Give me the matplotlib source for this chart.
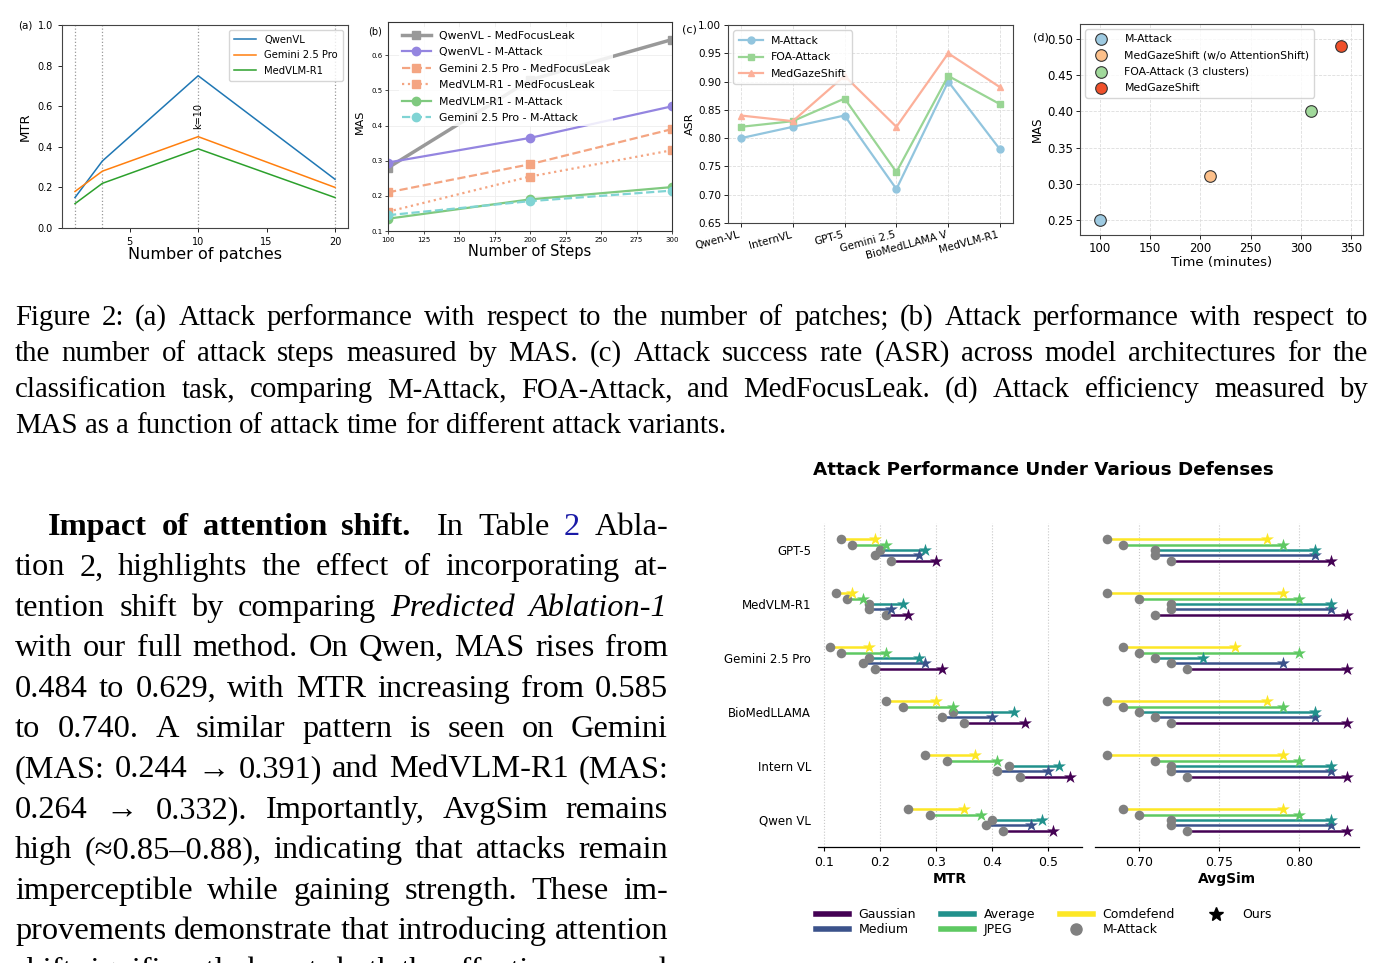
import matplotlib
matplotlib.use("Agg")
import matplotlib.pyplot as plt
from matplotlib.lines import Line2D

W, H = 1387, 963

# (a) number of patches
patches = [1, 3, 10, 20]
mtr_qwen = [0.15, 0.33, 0.75, 0.24]
mtr_gemini = [0.18, 0.28, 0.45, 0.20]
mtr_medvlm = [0.12, 0.22, 0.39, 0.15]

# (b) number of steps
steps = [100, 200, 300]
mas_qwen_mfl = [0.28, 0.53, 0.645]
mas_qwen_matk = [0.295, 0.365, 0.455]
mas_gemini_mfl = [0.21, 0.29, 0.39]
mas_medvlm_mfl = [0.155, 0.255, 0.33]
mas_medvlm_matk = [0.135, 0.19, 0.225]
mas_gemini_matk = [0.145, 0.185, 0.215]

# (c) ASR per architecture
archs = ["Qwen-VL", "InternVL", "GPT-5", "Gemini 2.5", "BioMedLLAMA V", "MedVLM-R1"]
asr_matk = [0.80, 0.82, 0.84, 0.71, 0.90, 0.78]
asr_foa = [0.82, 0.83, 0.87, 0.74, 0.91, 0.86]
asr_mgs = [0.84, 0.83, 0.91, 0.82, 0.95, 0.89]

# (d) efficiency
variants = ["M-Attack", "MedGazeShift (w/o AttentionShift)", "FOA-Attack (3 clusters)", "MedGazeShift"]
times = [100, 210, 310, 340]
mas_eff = [0.25, 0.31, 0.40, 0.49]

# defenses chart (rows = defenses, cols = models)
models = ["GPT-5", "MedVLM-R1", "Gemini 2.5 Pro", "BioMedLLAMA", "Intern VL", "Qwen VL"]
defenses = ["Gaussian", "Medium", "Average", "JPEG", "Comdefend"]
mtr_mattack = [
    [0.22, 0.21, 0.19, 0.35, 0.45, 0.42],
    [0.19, 0.18, 0.17, 0.31, 0.41, 0.39],
    [0.20, 0.18, 0.18, 0.33, 0.43, 0.40],
    [0.15, 0.14, 0.13, 0.24, 0.32, 0.29],
    [0.13, 0.12, 0.11, 0.21, 0.28, 0.25],
]
mtr_ours = [
    [0.30, 0.25, 0.31, 0.46, 0.54, 0.51],
    [0.27, 0.22, 0.28, 0.40, 0.50, 0.47],
    [0.28, 0.24, 0.27, 0.44, 0.52, 0.49],
    [0.21, 0.17, 0.21, 0.33, 0.41, 0.38],
    [0.19, 0.15, 0.18, 0.30, 0.37, 0.35],
]
sim_mattack = [
    [0.72, 0.71, 0.73, 0.72, 0.73, 0.73],
    [0.71, 0.72, 0.72, 0.71, 0.72, 0.72],
    [0.71, 0.72, 0.71, 0.70, 0.72, 0.72],
    [0.69, 0.70, 0.70, 0.69, 0.71, 0.70],
    [0.68, 0.68, 0.69, 0.68, 0.68, 0.69],
]
sim_ours = [
    [0.82, 0.83, 0.83, 0.83, 0.83, 0.83],
    [0.81, 0.82, 0.79, 0.81, 0.82, 0.82],
    [0.81, 0.82, 0.74, 0.81, 0.82, 0.82],
    [0.79, 0.80, 0.80, 0.79, 0.80, 0.80],
    [0.78, 0.79, 0.76, 0.78, 0.79, 0.79],
]
def_colors = ["#440154", "#3b528b", "#21918c", "#5ec962", "#fde725"]
def_offsets = [0.2, 0.1, 0.0, -0.1, -0.2]

caption = [
    "Figure 2: (a) Attack performance with respect to the number of patches; (b) Attack performance with respect to",
    "the number of attack steps measured by MAS. (c) Attack success rate (ASR) across model architectures for the",
    "classification task, comparing M-Attack, FOA-Attack, and MedFocusLeak.  (d) Attack efficiency measured by",
    "MAS as a function of attack time for different attack variants.",
]

fig = plt.figure(figsize=(W / 100, H / 100), dpi=100)
SERIF = ["Liberation Serif", "DejaVu Serif"]


def add_ax(l, t, r, b):
    return fig.add_axes([l / W, 1 - b / H, (r - l) / W, (b - t) / H])


def style_spines(ax, c="#444444"):
    for s in ax.spines.values():
        s.set_color(c)
        s.set_linewidth(0.8)


# ---------- (a)
ax = add_ax(62, 25, 348, 228)
for x in patches:
    ax.axvline(x, color="#999999", ls=":", lw=0.9, zorder=0)
ax.plot(patches, mtr_qwen, color="#1f77b4", lw=1.1, label="QwenVL")
ax.plot(patches, mtr_gemini, color="#ff7f0e", lw=1.1, label="Gemini 2.5 Pro")
ax.plot(patches, mtr_medvlm, color="#2ca02c", lw=1.1, label="MedVLM-R1")
ax.text(10, 0.55, "k=10", rotation=90, ha="center", va="center", fontsize=7)
ax.set_ylim(0, 1)
ax.set_yticks([0, 0.2, 0.4, 0.6, 0.8, 1.0])
ax.set_xticks([5, 10, 15, 20])
ax.tick_params(labelsize=7, length=3, width=0.6)
ax.set_xlabel("Number of patches", fontsize=11.5, labelpad=0)
ax.set_ylabel("MTR", fontsize=9.5, labelpad=4)
ax.legend(loc="upper right", fontsize=7.2, handlelength=2.2, borderpad=0.5, labelspacing=0.55)
style_spines(ax)
fig.text(18 / W, 1 - 25 / H, "(a)", fontsize=7.5, va="center")

# ---------- (b)
ax = add_ax(388, 22, 672, 231)
ax.grid(True, color="#eeeeee", lw=0.6)
ax.plot(steps, mas_qwen_mfl, color="#999999", marker="s", lw=2.5, ms=6, label="QwenVL - MedFocusLeak")
ax.plot(steps, mas_qwen_matk, color="#9485e0", marker="o", lw=1.6, ms=6, label="QwenVL - M-Attack")
ax.plot(steps, mas_gemini_mfl, color="#f4a582", marker="s", lw=1.6, ms=6, ls="--", label="Gemini 2.5 Pro - MedFocusLeak")
ax.plot(steps, mas_medvlm_mfl, color="#f4a582", marker="s", lw=1.6, ms=6, ls=":", label="MedVLM-R1 - MedFocusLeak")
ax.plot(steps, mas_medvlm_matk, color="#7fc97f", marker="o", lw=1.6, ms=6, label="MedVLM-R1 - M-Attack")
ax.plot(steps, mas_gemini_matk, color="#80d4d4", marker="o", lw=1.6, ms=6, ls="--", label="Gemini 2.5 Pro - M-Attack")
ax.set_xlim(100, 300)
ax.set_ylim(0.1, 0.695)
ax.set_yticks([0.1, 0.2, 0.3, 0.4, 0.5, 0.6])
ax.set_xticks([100, 125, 150, 175, 200, 225, 250, 275, 300])
ax.tick_params(labelsize=5, length=2, width=0.5, pad=2)
ax.set_xlabel("Number of Steps", fontsize=10.5, labelpad=1)
leg = ax.legend(loc="upper left", fontsize=7.8, framealpha=0.85, edgecolor="none",
                handlelength=2.6, borderpad=0.3, labelspacing=0.6, bbox_to_anchor=(0.02, 1.0))
style_spines(ax, "#333333")
fig.text(368 / W, 1 - 32 / H, "(b)", fontsize=7, va="center")
fig.text(360 / W, 1 - 122 / H, "MAS", fontsize=8, rotation=90, ha="center", va="center")

# ---------- (c)
ax = add_ax(728, 25, 1013, 223)
ax.grid(True, color="#dddddd", ls="--", lw=0.6)
xc = list(range(len(archs)))
ax.plot(xc, asr_matk, color="#92c5de", marker="o", lw=1.6, ms=5, label="M-Attack")
ax.plot(xc, asr_foa, color="#99d594", marker="s", lw=1.6, ms=5, label="FOA-Attack")
ax.plot(xc, asr_mgs, color="#fcb09a", marker="^", lw=1.6, ms=5, label="MedGazeShift")
ax.set_ylim(0.65, 1.0)
ax.set_yticks([0.65, 0.70, 0.75, 0.80, 0.85, 0.90, 0.95, 1.00])
ax.set_xticks(xc)
ax.set_xticklabels(archs, rotation=15, ha="right")
ax.tick_params(labelsize=7.5, length=3, width=0.6, pad=2)
ax.set_ylabel("ASR", fontsize=8, labelpad=2)
ax.legend(loc="upper left", fontsize=7.8, handlelength=2.2, borderpad=0.5, labelspacing=0.6)
style_spines(ax)
fig.text(682 / W, 1 - 30 / H, "(c)", fontsize=8, va="center")

# ---------- (d)
ax = add_ax(1080, 24, 1363, 235)
ax.grid(True, color="#dddddd", ls="--", lw=0.6)
d_colors = ["#9ecae1", "#fdc08a", "#a1d99b", "#f0502a"]
for t, m, c, lab in zip(times, mas_eff, d_colors, variants):
    ax.scatter(t, m, s=70, color=c, edgecolor="#333333", linewidth=0.8, label=lab, zorder=3)
ax.set_xlim(80, 362)
ax.set_ylim(0.229, 0.521)
ax.set_xticks([100, 150, 200, 250, 300, 350])
ax.set_yticks([0.25, 0.30, 0.35, 0.40, 0.45, 0.50])
ax.set_yticklabels(["%.2f" % v for v in [0.25, 0.30, 0.35, 0.40, 0.45, 0.50]])
ax.tick_params(labelsize=8.5, length=3, width=0.6, pad=2)
ax.set_xlabel("Time (minutes)", fontsize=9.5, labelpad=1)
ax.set_ylabel("MAS", fontsize=8.5, labelpad=2)
ax.legend(loc="upper left", fontsize=7.8, borderpad=0.4, labelspacing=0.6, handletextpad=1.2)
style_spines(ax)
fig.text(1033 / W, 1 - 38 / H, "(d)", fontsize=8, va="center")

# ---------- defenses chart
fig.text(1043 / W, 1 - 470 / H, "Attack Performance Under Various Defenses",
         ha="center", va="center", fontsize=13.2, fontweight="bold")
axl = add_ax(818, 523, 1082, 847)
axr = add_ax(1095, 523, 1359, 847)
ypos = list(range(len(models)))
for ax, base, ours, lab in [(axl, mtr_mattack, mtr_ours, "MTR"), (axr, sim_mattack, sim_ours, "AvgSim")]:
    for k in range(len(defenses)):
        ys = [y + def_offsets[k] for y in ypos]
        for y, b0, o0 in zip(ys, base[k], ours[k]):
            ax.plot([b0, o0], [y, y], color=def_colors[k], lw=1.8, zorder=2)
        ax.scatter(base[k], ys, s=48, color="#808080", zorder=3, linewidths=0)
        ax.scatter(ours[k], ys, s=95, marker="*", color=def_colors[k], zorder=4, linewidths=0)
    ax.set_ylim(5.5, -0.5)
    ax.set_yticks(ypos)
    ax.grid(True, axis="x", ls=":", color="#c8c8c8", lw=0.8)
    ax.set_axisbelow(True)
    for s in ["left", "top", "right"]:
        ax.spines[s].set_visible(False)
    ax.spines["bottom"].set_linewidth(0.9)
    ax.tick_params(axis="y", length=0, labelsize=8.5, pad=5)
    ax.tick_params(axis="x", labelsize=9, length=3)
    ax.set_xlabel(lab, fontsize=10, fontweight="bold", labelpad=2)
axl.set_yticklabels(models)
axr.set_yticklabels([])
axl.set_xticks([0.1, 0.2, 0.3, 0.4, 0.5])
axr.set_xticks([0.70, 0.75, 0.80])

handles = [Line2D([], [], color=c, lw=4) for c in def_colors[:5]]
handles.insert(5, Line2D([], [], ls="", marker="o", color="#808080", ms=8))
handles.append(Line2D([], [], ls="", marker="*", color="black", ms=10))
labels = ["Gaussian", "Medium", "Average", "JPEG", "Comdefend", "M-Attack", "Ours"]
fig.legend(handles, labels, loc="upper center", bbox_to_anchor=(1044 / W, 1 - 897 / H), ncol=4,
           frameon=False, fontsize=9, handlelength=2.6, columnspacing=2.0, labelspacing=0.15)


# ---------- justified text
def text_line(segments, x0, x1, ybase, size, justify=True):
    r = fig.canvas.get_renderer()
    items = []
    for txt, kw in segments:
        kw = dict(kw)
        extra = kw.pop("extra", 0)
        words = txt.split()
        for i, w in enumerate(words):
            t = fig.text(0, 1 - ybase / H, w, fontsize=size, family=SERIF, va="baseline", ha="left", **kw)
            items.append([t, t.get_window_extent(r).width, extra if i == len(words) - 1 else 0])
    total = sum(it[1] + it[2] for it in items)
    if justify and len(items) > 1:
        gap = (x1 - x0 - total + items[-1][2]) / (len(items) - 1)
    else:
        gap = size * 100 / 72 * 0.25
    x = x0
    for t, wd, ex in items:
        t.set_x(x / W)
        x += wd + ex + gap


cap_size = 20.8
for i, line in enumerate(caption):
    text_line([(line, {})], 15, 1368, 325 + 36 * i, cap_size, justify=(i < len(caption) - 1))

para = [
    [("Impact of attention shift.", {"fontweight": "bold", "extra": 12}), ("In Table", {}),
     ("2", {"color": "#1a1aa6"}), ("Abla-", {})],
    [("tion 2, highlights the effect of incorporating at-", {})],
    [("tention shift by comparing", {}), ("Predicted Ablation-1", {"fontstyle": "italic"})],
    [("with our full method. On Qwen, MAS rises from", {})],
    [("0.484 to 0.629, with MTR increasing from 0.585", {})],
    [("to 0.740.  A similar pattern is seen on Gemini", {})],
    [("(MAS: 0.244 \u2192 0.391) and MedVLM-R1 (MAS:", {})],
    [("0.264 \u2192 0.332).  Importantly, AvgSim remains", {})],
    [("high (\u22480.85\u20130.88), indicating that attacks remain", {})],
    [("imperceptible while gaining strength.  These im-", {})],
    [("provements demonstrate that introducing attention", {})],
    [("shift significantly boosts both the effectiveness and", {})],
]
for i, segs in enumerate(para):
    text_line(segs, 48 if i == 0 else 15, 668, 535 + 40.4 * i, 23.3)

fig.savefig("out.png", dpi=100)
